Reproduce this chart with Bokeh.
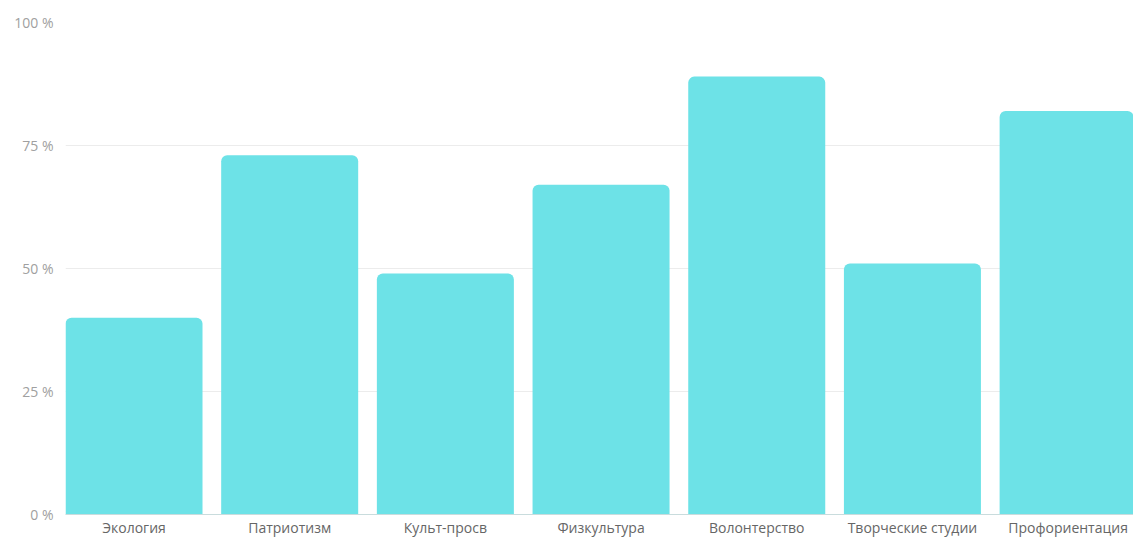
from bokeh.plotting import figure
from bokeh.embed import file_html
from bokeh.resources import INLINE
from bokeh.models import FixedTicker, ColumnDataSource

categories = ["Экология", "Патриотизм", "Культ-просв", "Физкультура",
              "Волонтерство", "Творческие студии", "Профориентация"]
values = [40, 73, 49, 67, 89, 51, 82]
y_ticks = [0, 25, 50, 75, 100]
y_tick_labels = ["0 %", "25 %", "50 %", "75 %", "100 %"]

xs = list(range(len(categories)))
src = ColumnDataSource(dict(x=xs, top=values))

p = figure(width=1133, height=539, output_backend="svg", toolbar_location=None,
           x_range=(-0.44, 6.42), y_range=(0, 100),
           min_border_left=65, min_border_right=0, min_border_top=22, min_border_bottom=0)
p.outline_line_color = None
p.background_fill_color = "white"

p.vbar(x="x", top="top", width=0.88, bottom=0, source=src,
       fill_color="#6de2e7", line_color=None, border_radius=(6, 6, 0, 0))

p.xgrid.grid_line_color = None
p.ygrid.grid_line_color = "#ececec"
p.ygrid.ticker = FixedTicker(ticks=y_ticks)
p.ygrid.level = "underlay"

p.xaxis.ticker = FixedTicker(ticks=xs)
p.xaxis.major_label_overrides = {i: c for i, c in enumerate(categories)}
p.xaxis.axis_line_color = "#c9dcdd"
p.xaxis.major_tick_line_color = None
p.xaxis.minor_tick_line_color = None
p.xaxis.major_tick_out = 0
p.xaxis.major_tick_in = 0
p.xaxis.major_label_text_font = "Open Sans"
p.xaxis.major_label_text_font_size = "14px"
p.xaxis.major_label_text_color = "#666666"
p.xaxis.major_label_standoff = 3

p.yaxis.ticker = FixedTicker(ticks=y_ticks)
p.yaxis.major_label_overrides = {t: l for t, l in zip(y_ticks, y_tick_labels)}
p.yaxis.axis_line_color = None
p.yaxis.major_tick_line_color = None
p.yaxis.minor_tick_line_color = None
p.yaxis.major_tick_out = 0
p.yaxis.major_tick_in = 0
p.yaxis.major_label_text_font = "Open Sans"
p.yaxis.major_label_text_font_size = "14px"
p.yaxis.major_label_text_color = "#a0a0a0"
p.yaxis.major_label_standoff = 12

open("out.html", "w").write(file_html(p, INLINE))
